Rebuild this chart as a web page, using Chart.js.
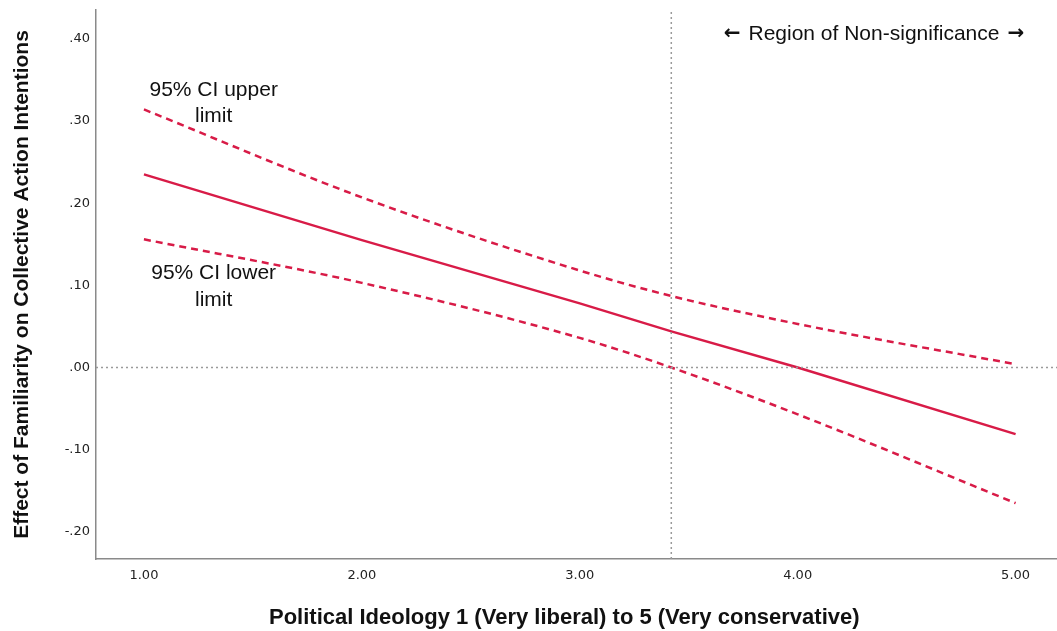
<!DOCTYPE html>
<html>
<head>
<meta charset="utf-8">
<script src="https://cdn.jsdelivr.net/npm/chart.js@4"></script>
<style>
  html, body { margin: 0; padding: 0; background: #fff; }
  #wrap { width: 1057px; height: 631px; position: relative; }
</style>
</head>
<body>
<div id="wrap"><canvas id="chart"></canvas></div>
<script>
// values
const ideology = [1, 2, 3, 3.42, 4, 5];
const effect = [0.235, 0.155, 0.078, 0.044, 0.000, -0.081];
const ciUpper = [0.314, 0.207, 0.118, 0.087, 0.053, 0.004];
const ciLower = [0.156, 0.103, 0.036, 0.000, -0.057, -0.165];

const xTicks = [1, 2, 3, 4, 5];
const yTicks = [-0.2, -0.1, 0, 0.1, 0.2, 0.3, 0.4];
const xRange = [0.78, 5.19];
const yRange = [-0.233, 0.435];
const jnPoint = 3.42; // Johnson-Neyman boundary

const red = '#d81b47';
const grey = '#9a9a9a';
const noteFont = '21px "Liberation Sans", Arial, sans-serif';
const arrowFont = 'bold 20px "DejaVu Sans", sans-serif';

function pts(ys) {
  return ideology.map((x, i) => ({ x: x, y: ys[i] }));
}

function spssFmt(v) {
  let s = Math.abs(v).toFixed(2).replace(/^0/, '');
  return (v < -1e-9 ? '-' : '') + s;
}

// text labels placed in data coordinates
const notes = {
  id: 'notes',
  afterDatasetsDraw(chart) {
    const { ctx, scales: { x, y } } = chart;
    ctx.save();
    ctx.fillStyle = '#111';
    ctx.textBaseline = 'middle';

    // region label: arrows in a font with bigger arrow glyphs
    const mid = 'Region of Non-significance';
    ctx.font = noteFont;
    const wMid = ctx.measureText(mid).width;
    ctx.font = arrowFont;
    const wArr = ctx.measureText('\u2190').width;
    const gap = 8;
    const cx = x.getPixelForValue(4.35);
    const cy = y.getPixelForValue(0.406);
    let left = cx - (wMid + 2 * wArr + 2 * gap) / 2;
    ctx.textAlign = 'left';
    ctx.fillText('\u2190', left, cy);
    ctx.fillText('\u2192', left + wArr + gap + wMid + gap, cy);
    ctx.font = noteFont;
    ctx.fillText(mid, left + wArr + gap, cy);

    ctx.textAlign = 'center';
    ctx.fillText('95% CI upper', x.getPixelForValue(1.32), y.getPixelForValue(0.338));
    ctx.fillText('limit', x.getPixelForValue(1.32), y.getPixelForValue(0.306));
    ctx.fillText('95% CI lower', x.getPixelForValue(1.32), y.getPixelForValue(0.115));
    ctx.fillText('limit', x.getPixelForValue(1.32), y.getPixelForValue(0.082));
    ctx.restore();
  }
};

new Chart(document.getElementById('chart'), {
  type: 'line',
  data: {
    datasets: [
      {
        label: 'zero',
        data: [{ x: xRange[0], y: 0 }, { x: xRange[1], y: 0 }],
        borderColor: grey, borderWidth: 1.5, borderDash: [2, 3], pointRadius: 0
      },
      {
        label: 'boundary',
        data: [{ x: jnPoint, y: yRange[0] }, { x: jnPoint, y: yRange[1] }],
        borderColor: grey, borderWidth: 1.5, borderDash: [2, 3], pointRadius: 0
      },
      {
        label: 'Effect',
        data: pts(effect),
        borderColor: red, borderWidth: 2.5, pointRadius: 0
      },
      {
        label: '95% CI upper limit',
        data: pts(ciUpper),
        borderColor: red, borderWidth: 2.5, borderDash: [7, 5], pointRadius: 0,
        cubicInterpolationMode: 'monotone'
      },
      {
        label: '95% CI lower limit',
        data: pts(ciLower),
        borderColor: red, borderWidth: 2.5, borderDash: [7, 5], pointRadius: 0,
        cubicInterpolationMode: 'monotone'
      }
    ]
  },
  options: {
    responsive: true,
    maintainAspectRatio: false,
    animation: false,
    layout: { padding: { top: 10, right: 0, left: 0, bottom: 0 } },
    plugins: {
      legend: { display: false },
      tooltip: { enabled: false }
    },
    scales: {
      x: {
        type: 'linear',
        min: xRange[0],
        max: xRange[1],
        afterBuildTicks: (scale) => { scale.ticks = xTicks.map(v => ({ value: v })); },
        afterFit: (scale) => { scale.height = 72; scale.paddingRight = 0; },
        grid: { display: false, drawTicks: false },
        border: { display: true, color: '#8a8a8a', width: 1.5 },
        ticks: {
          padding: 9,
          color: '#222',
          font: { family: '"DejaVu Sans", sans-serif', size: 13 },
          callback: (v) => Number(v).toFixed(2)
        },
        title: {
          display: true,
          text: 'Political Ideology 1 (Very liberal) to 5 (Very conservative)\u00a0\u00a0\u00a0\u00a0',
          color: '#111',
          font: { family: '"Liberation Sans", Arial, sans-serif', size: 22, weight: 'bold' },
          padding: { top: 20, bottom: 0 }
        }
      },
      y: {
        type: 'linear',
        min: yRange[0],
        max: yRange[1],
        afterBuildTicks: (scale) => { scale.ticks = yTicks.map(v => ({ value: v })); },
        afterFit: (scale) => { scale.width = 96; scale.paddingTop = 0; scale.paddingBottom = 0; },
        grid: { display: false, drawTicks: false },
        border: { display: true, color: '#8a8a8a', width: 1.5 },
        ticks: {
          padding: 6,
          color: '#222',
          font: { family: '"DejaVu Sans", sans-serif', size: 13 },
          callback: (v) => spssFmt(v)
        },
        title: {
          display: true,
          text: 'Effect of Familiarity on Collective Action Intentions',
          color: '#111',
          font: { family: '"Liberation Sans", Arial, sans-serif', size: 21, weight: 'bold' },
          padding: { top: 10, bottom: 0 }
        }
      }
    }
  },
  plugins: [notes]
});
</script>
</body>
</html>
